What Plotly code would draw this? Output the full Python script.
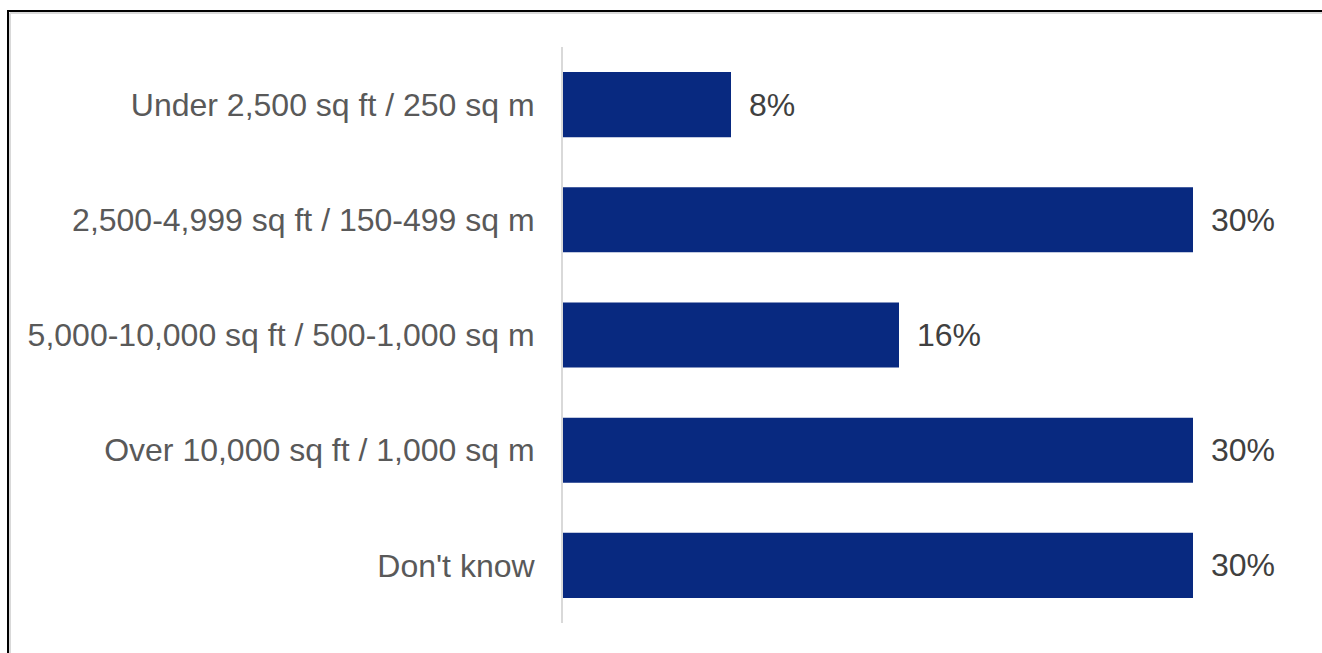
import plotly.graph_objects as go

# Survey: facility size of respondents
categories = [
    "Under 2,500 sq ft / 250 sq m",
    "2,500-4,999 sq ft / 150-499 sq m",
    "5,000-10,000 sq ft / 500-1,000 sq m",
    "Over 10,000 sq ft / 1,000 sq m",
    "Don't know",
]
shares = [8, 30, 16, 30, 30]
share_labels = ["8%", "30%", "16%", "30%", "30%"]

W, H = 1322, 653
ML, MR, MT, MB = 563, 22, 47, 30
PLOT_W = W - ML - MR
PLOT_H = H - MT - MB

BAR_COLOR = "#082980"
FONT = "Liberation Sans, Arial, sans-serif"
FONT_SIZE = 32

fig = go.Figure(
    go.Bar(
        x=shares,
        y=categories,
        orientation="h",
        marker=dict(color=BAR_COLOR, line=dict(width=0)),
        hoverinfo="skip",
    )
)

# value labels just right of each bar end
for cat, val, lab in zip(categories, shares, share_labels):
    fig.add_annotation(
        x=val, y=cat, text=lab, showarrow=False,
        xanchor="left", yanchor="middle", xshift=16,
        font=dict(family=FONT, size=FONT_SIZE, color="#404040"),
    )


def px_x(px):
    return (px - ML) / PLOT_W


def px_y(py):
    return (H - MB - py) / PLOT_H


# frame around the chart (left and top edges), with a soft inner line
fig.add_shape(type="line", xref="paper", yref="paper",
              x0=px_x(10), x1=px_x(W + 5), y0=px_y(13), y1=px_y(13),
              line=dict(color="#d9d9d9", width=2), layer="below")
fig.add_shape(type="line", xref="paper", yref="paper",
              x0=px_x(10), x1=px_x(10), y0=px_y(13), y1=px_y(H + 5),
              line=dict(color="#d9d9d9", width=2), layer="below")
fig.add_shape(type="line", xref="paper", yref="paper",
              x0=px_x(7), x1=px_x(W + 5), y0=px_y(11), y1=px_y(11),
              line=dict(color="#000000", width=2))
fig.add_shape(type="line", xref="paper", yref="paper",
              x0=px_x(8), x1=px_x(8), y0=px_y(10), y1=px_y(H + 5),
              line=dict(color="#000000", width=2))

fig.update_layout(
    width=W, height=H,
    margin=dict(l=ML, r=MR, t=MT, b=MB, autoexpand=False),
    paper_bgcolor="white", plot_bgcolor="white",
    bargap=0.435,
    showlegend=False,
    font=dict(family=FONT, size=FONT_SIZE, color="#595959"),
    xaxis=dict(range=[0, PLOT_W / 21.0], visible=False, fixedrange=True),
    yaxis=dict(
        categoryorder="array", categoryarray=categories,
        autorange="reversed",
        showline=True, linecolor="#d9d9d9", linewidth=2,
        showgrid=False, zeroline=False,
        ticks="", ticklabelstandoff=20,
        tickfont=dict(family=FONT, size=FONT_SIZE, color="#595959"),
        fixedrange=True,
    ),
)

fig.write_html("out.html")
